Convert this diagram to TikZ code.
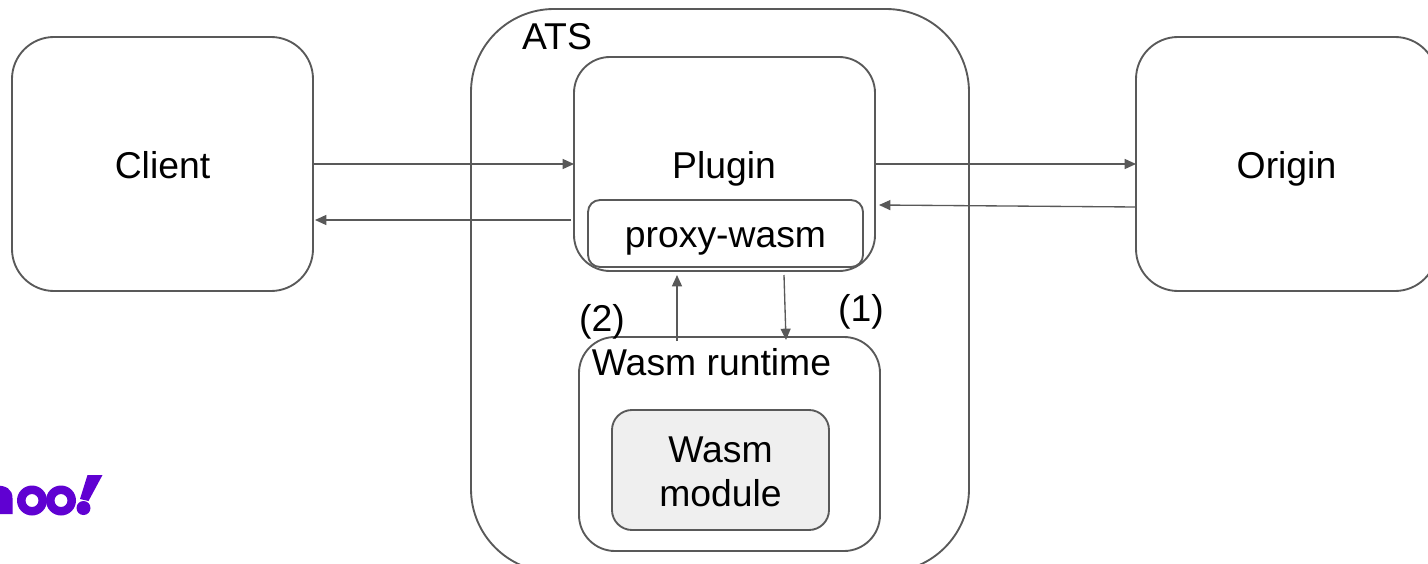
\documentclass[tikz,border=0pt]{standalone}
\usepackage{fontspec}
\setmainfont{Liberation Sans}
\usetikzlibrary{arrows.meta}
\definecolor{edge}{HTML}{595959}
\definecolor{modfill}{HTML}{EFEFEF}
\definecolor{yahoo}{HTML}{6001D2}
\tikzset{
  box/.style={draw=edge,line width=1.4pt,fill=none,inner sep=0pt,outer sep=0pt,font=\fontsize{28}{32}\selectfont,align=center},
  label/.style={inner sep=0pt,anchor=base,font=\fontsize{28}{32}\selectfont,align=center,text=black},
  conn/.style={draw=edge,line width=1pt,-{Triangle[length=8.5pt,width=7.5pt]}}
}
\newcommand{\rbox}[8]{% name, x0,y0,x1,y1,radius(px),text height(pt),text
  \pgfmathsetmacro{\boxw}{(#4-#2)*0.75}
  \pgfmathsetmacro{\boxh}{(#5-#3)*0.75}
  \pgfmathsetmacro{\boxr}{#6*0.75}
  \node[box,rounded corners=\boxr pt,minimum width=\boxw pt,minimum height=\boxh pt,text height=#7pt,text depth=0pt] (#1) at ({(#2+#4)/2},{(#3+#5)/2}) {#8};
}
\begin{document}
\begin{tikzpicture}[x=0.75pt,y=-0.75pt]
\useasboundingbox (0,0) rectangle (1428,564);
\clip (0,0) rectangle (1428,564);
\fill[white] (0,0) rectangle (1428,564);
\rbox{ats}{471}{9}{969}{572}{83}{0}{}
\rbox{client}{12}{37}{313}{291}{42}{21}{Client}
\rbox{origin}{1136}{37}{1437}{291}{42}{21}{Origin}
\rbox{plugin}{574}{57}{875}{271}{36}{0}{}
\rbox{proxy}{588}{200}{863}{267}{12}{20.25}{proxy-wasm}
\rbox{runtime}{579}{337}{880}{551}{36}{0}{}
\node[box,fill=modfill,rounded corners=15pt,minimum width=162.75pt,minimum height=90pt] (module) at (720.5,470) {};
\node[label,anchor=center] (modtxt) at (720.5,472) {Wasm\\[1pt]module};
\node[label] (atstxt) at (557,49.5) {ATS};
\node[label] (plugintxt) at (724,178) {Plugin};
\node[label] (rttxt) at (711.5,375) {Wasm runtime};
\node[label] (one) at (861,321) {(1)};
\node[label] (two) at (602,331) {(2)};
\coordinate (clout) at (315,220);
\coordinate (plout) at (571,220);
\coordinate (plback) at (879,205);
\coordinate (orout) at (1136,207);
\coordinate (upa) at (677,341);
\coordinate (upb) at (677,275);
\coordinate (dna) at (784,275);
\coordinate (dnb) at (786,340);
\draw[conn] (client.east) -- (plugin.west);
\draw[conn] (plout) -- (clout);
\draw[conn] (plugin.east) -- (origin.west);
\draw[conn] (orout) -- (plback);
\draw[conn] (upa) -- (upb);
\draw[conn] (dna) -- (dnb);
% logo
\begin{scope}[yahoo]
\fill (-4,485.5) .. controls (6,485.5) and (12.5,489) .. (12.5,498) -- (12.5,514) -- (-4,514) -- cycle;
\fill[even odd rule] (32,500.5) circle[radius=15] (32,500.5) circle[radius=6.5];
\fill[even odd rule] (61,500.5) circle[radius=15] (61,500.5) circle[radius=6.5];
\fill (87.5,475) -- (102.5,475) -- (88.5,501) -- (80,499) -- cycle;
\fill (83.5,508) circle[radius=7];
\end{scope}
\end{tikzpicture}
\end{document}
